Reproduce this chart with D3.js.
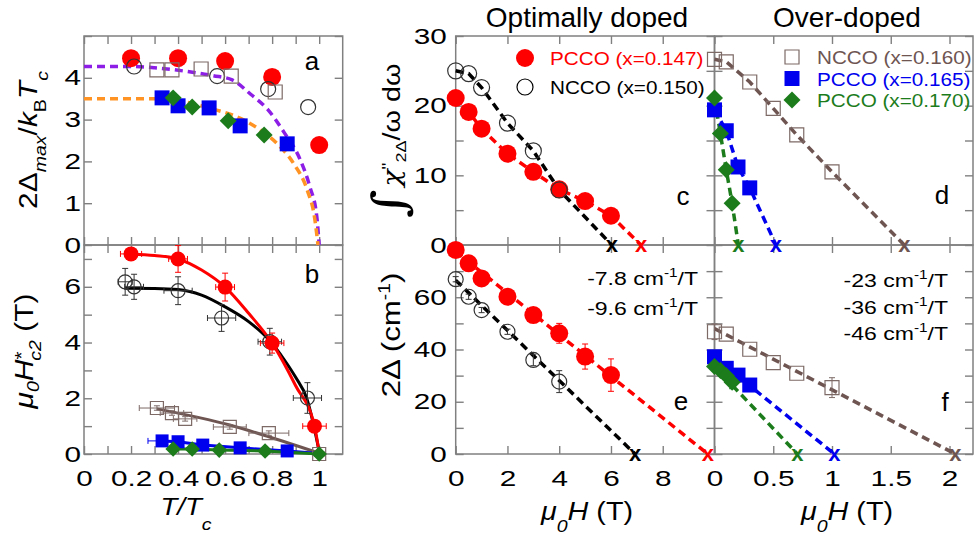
<!DOCTYPE html>
<html>
<head>
<meta charset="utf-8">
<script src="https://cdn.jsdelivr.net/npm/d3@7"></script>
<style>
  body { margin: 0; background: #fff; }
  svg { font-family: "Liberation Sans", Arial, sans-serif; }
</style>
</head>
<body>
<div id="main-container"></div>
<script>
// ---------- data ----------

// a: 2Δmax/kBTc vs T/Tc  -> [T/Tc, value]
const A_PCCO147 = [[0.2, 4.47], [0.4, 4.47], [0.6, 4.40], [0.8, 4.02], [1.0, 2.39]];
const A_NCCO150 = [[0.213, 4.27], [0.566, 4.04], [0.783, 3.73], [0.953, 3.30]];
const A_NCCO160 = [[0.31, 4.19], [0.374, 4.19], [0.498, 4.21], [0.626, 4.04], [0.813, 3.66]];
const A_PCCO165 = [[0.332, 3.52], [0.4, 3.33], [0.532, 3.28], [0.664, 2.85], [0.864, 2.42]];
const A_PCCO170 = [[0.379, 3.52], [0.46, 3.30], [0.613, 2.97], [0.766, 2.63]];
// dashed guide curves (points picked along them)
const A_CURVE_HI = [[0, 4.27], [0.2, 4.27], [0.3, 4.24], [0.44, 4.15], [0.55, 4.05], [0.63, 3.95], [0.71, 3.6], [0.78, 3.25], [0.85, 2.7], [0.92, 2.03], [0.96, 1.4], [0.99, 0.67], [1.0, 0]];
const A_CURVE_LO = [[0, 3.5], [0.3, 3.5], [0.4, 3.45], [0.55, 3.25], [0.66, 3.04], [0.75, 2.75], [0.82, 2.43], [0.89, 1.96], [0.95, 1.3], [0.98, 0.67], [0.995, 0]];

// b: μ0H*c2 vs T/Tc -> [T/Tc, H, ±T, ±H]
const B_PCCO147 = [[0.2, 7.18, 0.045, 0.1], [0.4, 7.0, 0.04, 0.48], [0.6, 5.99, 0.04, 0.5], [0.8, 3.98, 0.05, 0.36], [0.98, 1.0, 0.05, 0]];
const B_NCCO150 = [[0.175, 6.18, 0.03, 0.48], [0.213, 6.0, 0.04, 0.45], [0.4, 5.86, 0.06, 0.5], [0.585, 4.88, 0.06, 0.48], [0.79, 4.03, 0.05, 0.48], [0.95, 2.01, 0.06, 0.55]];
const B_NCCO160 = [[0.31, 1.65, 0.075, 0.08], [0.374, 1.47, 0.05, 0.08], [0.43, 1.26, 0.05, 0.08], [0.62, 0.97, 0.07, 0.08], [0.786, 0.75, 0.085, 0.08], [1.0, 0.0, 0.02, 0]];
const B_PCCO165 = [[0.332, 0.47, 0.06, 0], [0.4, 0.44, 0.02, 0], [0.505, 0.32, 0.02, 0], [0.664, 0.22, 0.02, 0], [0.864, 0.11, 0.02, 0]];
const B_PCCO170 = [[0.379, 0.18], [0.46, 0.18], [0.575, 0.14], [0.77, 0.11], [1.0, 0.0]];
const B_FIT_PCCO147 = [[0.2, 7.18], [0.3, 7.12], [0.4, 7.0], [0.5, 6.6], [0.6, 5.99], [0.7, 5.05], [0.8, 3.98], [0.9, 2.45], [0.98, 1.0], [1.0, 0.05]];
const B_FIT_NCCO150 = [[0.175, 5.95], [0.3, 5.94], [0.4, 5.9], [0.5, 5.7], [0.6, 5.28], [0.7, 4.75], [0.787, 4.09], [0.85, 3.4], [0.9, 2.75], [0.947, 2.0], [1.0, 0.1]];
const B_FIT_NCCO160 = [[0.31, 1.62], [0.62, 1.04], [0.786, 0.62], [1.0, 0.03]];
const B_FIT_PCCO165 = [[0.332, 0.47], [0.4, 0.44], [0.505, 0.32], [0.664, 0.22], [0.864, 0.11], [1.0, 0.02]];

// c/e: optimally doped, vs field (T)
const H_PCCO147 = [0, 0.5, 1, 2, 3, 4, 5, 6];
const H_NCCO150 = [0, 0.5, 1, 2, 3, 4];
const C_PCCO147 = [21.1, 19.1, 16.7, 13.1, 10.5, 8.0, 6.3, 4.2];
const C_NCCO150 = [25.0, 24.6, 22.6, 17.5, 13.5, 7.9];
const E_PCCO147 = [78.1, 73.0, 67.2, 60.2, 53.2, 46.2, 37.3, 30.2];
const E_PCCO147_ERR = [0.8, 0.8, 1, 1, 1.2, 3.8, 4.8, 6.2];
const E_NCCO150 = [66.9, 60.2, 55.1, 46.8, 36.0, 27.7];
const E_NCCO150_ERR = [1, 1, 1, 1, 2.2, 4.2];

// d/f: over-doped, vs field (T)
const H_NCCO160 = [0, 0.1, 0.3, 0.5, 0.7, 1.0];
const H_PCCO165 = [0, 0.1, 0.2, 0.3];
const H_PCCO170 = [0, 0.05, 0.1, 0.15];
const D_NCCO160 = [26.65, 26.3, 23.4, 19.6, 15.8, 10.5];
const D_PCCO165 = [19.4, 16.4, 11.2, 8.2];
const D_PCCO170 = [21.1, 16.0, 10.8, 6.0];
const F_NCCO160 = [46.8, 45.9, 40.1, 35.0, 30.9, 25.4];
const F_NCCO160_ERR = [3, 0, 0, 0, 0, 3.8];
const F_PCCO165 = [37.2, 32.8, 30.2, 26.4];
const F_PCCO170 = [33.5, 32.0, 30.0, 27.5];
const F_PCCO170_ERR = [0, 0, 0, 2.5];

// field where each curve reaches zero (the x marks): [PCCO147, NCCO150] and [NCCO160, PCCO165, PCCO170]
const C_ZERO = [7.16, 6.03];
const E_ZERO = [9.74, 6.93];
const D_ZERO = [1.615, 0.523, 0.203];
const F_ZERO = [2.05, 1.02, 0.705];
// linear fits in e and f: intercepts at H = 0
const E_INTERCEPT = [77.5, 66.5];
const F_INTERCEPT = [48, 37, 33.5];

const E_SLOPES = ['-7.8', '-9.6'];
const F_SLOPES = ['-23', '-36', '-46'];

// ---------- setup ----------
const W = 974, H = 541;
const FRAME = '#808080';
const RED = '#ff0000', BLUE = '#0000ee', GREEN = '#1c7c1c', BROWN = '#6e5552', OSQ = '#7d6a67';
const PURPLE = '#8c1ee6', ORANGE = '#ff9424';
const SX = 1.35; // the figure's digits are drawn wide

const svg = d3.select('#main-container').append('svg')
    .attr('width', W)
    .attr('height', H);

const zip = (xs, ys) => xs.map((v, i) => [v, ys[i]]);

// Scales
const xT = d3.scaleLinear([0, 1.1], [84, 342.7]);
const yA = d3.scaleLinear([0, 5], [245, 36]);
const yB = d3.scaleLinear([0, 7.5], [454, 245]);
const xM = d3.scaleLinear([0, 10], [455.7, 714.5]);
const yC = d3.scaleLinear([0, 30], [245, 36]);
const yE = d3.scaleLinear([0, 80], [454, 245]);
const xR = d3.scaleLinear([0, 2.2], [714.5, 973]);

// Frame with inward ticks on all four sides
function axes(x, y, o) {
    const [xa, xb] = x.range(), [ya, yb] = y.range();
    const g = svg.append('g');
    const fmt = keep => v => keep && keep(v) ? d3.format('~g')(+v.toFixed(2)) : '';
    const put = (axis, tr) => {
        const a = g.append('g').attr('transform', tr).call(axis)
            .attr('font-size', null).attr('font-family', null);
        a.select('.domain').remove();
        a.selectAll('line').attr('stroke', FRAME).attr('stroke-width', 1.4);
        a.selectAll('text').attr('fill', '#000').style('font-size', '22px');
        return a;
    };
    put(d3.axisBottom(x).tickValues(o.xt).tickSize(-8).tickFormat(fmt(o.xKeep)), `translate(0,${ya})`)
        .selectAll('text').attr('y', 32).attr('dy', null).attr('transform', `scale(${SX},1)`);
    put(d3.axisTop(x).tickValues(o.xt).tickSize(-8).tickFormat(''), `translate(0,${yb})`);
    put(d3.axisLeft(y).tickValues(o.yt).tickSize(-8).tickFormat(fmt(o.yKeep)), `translate(${xa},0)`)
        .selectAll('text').attr('x', -o.gap / SX).attr('transform', `scale(${SX},1)`);
    put(d3.axisRight(y).tickValues(o.yt).tickSize(-8).tickFormat(''), `translate(${xb},0)`);
    g.append('rect')
        .attr('x', xa).attr('y', yb)
        .attr('width', xb - xa).attr('height', ya - yb)
        .attr('fill', 'none').attr('stroke', FRAME).attr('stroke-width', 1.5);
}

const tenths = d3.range(0, 11).map(i => i / 10);
axes(xT, yA, { xt: tenths, yt: d3.range(0, 6), yKeep: v => v <= 4, gap: 3 });
axes(xT, yB, { xt: tenths, yt: d3.range(0, 8), xKeep: v => Math.round(v * 10) % 2 === 0, yKeep: v => v % 2 === 0, gap: 3 });
axes(xM, yC, { xt: [0, 2, 4, 6, 8], yt: d3.range(0, 31, 5), yKeep: v => v % 10 === 0, gap: 9 });
axes(xM, yE, { xt: [0, 2, 4, 6, 8], yt: d3.range(0, 80, 10), xKeep: () => true, yKeep: v => v % 20 === 0, gap: 9 });
axes(xR, yC, { xt: [0, 0.5, 1, 1.5, 2], yt: d3.range(0, 31, 5), gap: 9 });
axes(xR, yE, { xt: [0, 0.5, 1, 1.5, 2], yt: d3.range(0, 80, 10), xKeep: () => true, gap: 9 });

// ---------- mark helpers ----------
function curve(x, y, pts, color, o = {}) {
    svg.append('path')
        .attr('d', d3.line().x(d => x(d[0])).y(d => y(d[1])).curve(o.smooth ? d3.curveMonotoneX : d3.curveLinear)(pts))
        .attr('fill', 'none')
        .attr('stroke', color)
        .attr('stroke-width', o.width || 3.5)
        .attr('stroke-dasharray', o.solid ? null : '8,5');
}

function marks(x, y, pts, kind, color, size, open) {
    const sym = kind === 'circle' ? d3.symbolCircle : d3.symbolSquare;
    const area = kind === 'circle' ? Math.PI * size * size / 4 : size * size;
    svg.append('g').selectAll('path')
        .data(pts)
        .join('path')
        .attr('transform', d => `translate(${x(d[0])},${y(d[1])})` + (kind === 'diamond' ? ' rotate(45)' : ''))
        .attr('d', d3.symbol(sym, area))
        .attr('fill', open ? 'none' : color)
        .attr('stroke', open ? color : 'none')
        .attr('stroke-width', 1.2);
}

// error bars, pts = [x, y, ±x, ±y]
function errs(x, y, pts, color) {
    const c = 3;
    svg.append('g').selectAll('path')
        .data(pts)
        .join('path')
        .attr('d', d => {
            const px = x(d[0]), py = y(d[1]);
            let s = '';
            if (d[2]) {
                const a = x(d[0] - d[2]), b = x(d[0] + d[2]);
                s += `M${a},${py}H${b}M${a},${py - c}V${py + c}M${b},${py - c}V${py + c}`;
            }
            if (d[3]) {
                const a = y(d[1] - d[3]), b = y(d[1] + d[3]);
                s += `M${px},${a}V${b}M${px - c},${a}H${px + c}M${px - c},${b}H${px + c}`;
            }
            return s || null;
        })
        .attr('fill', 'none')
        .attr('stroke', color)
        .attr('stroke-width', 1);
}

function crosses(x, y, vals, colors) {
    svg.append('g').selectAll('text')
        .data(vals)
        .join('text')
        .attr('x', d => x(d))
        .attr('y', y(0) + 7)
        .attr('text-anchor', 'middle')
        .style('font-size', '22px')
        .style('font-weight', 'bold')
        .attr('fill', (d, i) => colors[i])
        .text('x');
}

function rich(tr, parts, o = {}) {
    const t = svg.append('text')
        .attr('transform', tr)
        .attr('text-anchor', o.anchor || 'middle')
        .attr('fill', o.fill || '#000')
        .style('font-size', (o.size || 24) + 'px');
    parts.forEach(p => {
        const s = t.append('tspan').text(p.t);
        if (p.dy) s.attr('dy', p.dy);
        if (p.dx) s.attr('dx', p.dx);
        if (p.s) s.style('font-size', p.s + 'px');
        if (p.i) s.style('font-style', 'italic');
        if (p.f) s.style('font-family', p.f);
    });
    return t;
}

// ---------- panel a ----------
curve(xT, yA, A_CURVE_HI, PURPLE, { smooth: true });
curve(xT, yA, A_CURVE_LO, ORANGE, { smooth: true });
marks(xT, yA, A_PCCO147, 'circle', RED, 18);
marks(xT, yA, A_NCCO150, 'circle', '#333', 15, true);
marks(xT, yA, A_NCCO160, 'square', OSQ, 14, true);
marks(xT, yA, A_PCCO165, 'square', BLUE, 15);
marks(xT, yA, A_PCCO170, 'diamond', GREEN, 12);

// ---------- panel b ----------
curve(xT, yB, B_FIT_NCCO160, BROWN, { smooth: true, solid: true, width: 3 });
curve(xT, yB, B_FIT_PCCO165, BLUE, { solid: true, width: 3 });
curve(xT, yB, B_PCCO170, GREEN, { solid: true, width: 3 });
curve(xT, yB, B_FIT_NCCO150, '#000', { smooth: true, solid: true, width: 3 });
curve(xT, yB, B_FIT_PCCO147, RED, { smooth: true, solid: true, width: 3 });
errs(xT, yB, B_NCCO160, OSQ);
errs(xT, yB, B_PCCO165, BLUE);
errs(xT, yB, B_NCCO150, '#333');
errs(xT, yB, B_PCCO147, RED);
marks(xT, yB, B_NCCO160, 'square', OSQ, 13, true);
marks(xT, yB, B_PCCO165, 'square', BLUE, 13);
marks(xT, yB, B_PCCO170, 'diamond', GREEN, 11);
marks(xT, yB, B_NCCO150, 'circle', '#333', 14, true);
marks(xT, yB, B_PCCO147, 'circle', RED, 15);

// ---------- panel c ----------
const cRed = zip(H_PCCO147, C_PCCO147), cBlack = zip(H_NCCO150, C_NCCO150);
curve(xM, yC, [...cBlack, [C_ZERO[1], 0]], '#000');
curve(xM, yC, [...cRed, [C_ZERO[0], 0]], RED);
marks(xM, yC, cRed, 'circle', RED, 18);
marks(xM, yC, cBlack, 'circle', '#333', 16, true);
crosses(xM, yC, C_ZERO, [RED, '#000']);

// ---------- panel d ----------
const dBr = zip(H_NCCO160, D_NCCO160), dBl = zip(H_PCCO165, D_PCCO165), dGr = zip(H_PCCO170, D_PCCO170);
curve(xR, yC, [...dBr, [D_ZERO[0], 0]], BROWN);
curve(xR, yC, [...dBl, [D_ZERO[1], 0]], BLUE);
curve(xR, yC, [...dGr, [D_ZERO[2], 0]], GREEN);
marks(xR, yC, dBr, 'square', OSQ, 14, true);
marks(xR, yC, dBl, 'square', BLUE, 15);
marks(xR, yC, dGr, 'diamond', GREEN, 12);
crosses(xR, yC, D_ZERO, [BROWN, BLUE, GREEN]);

// ---------- panel e ----------
curve(xM, yE, [[0, E_INTERCEPT[0]], [E_ZERO[0], 0]], RED);
curve(xM, yE, [[0, E_INTERCEPT[1]], [E_ZERO[1], 0]], '#000');
errs(xM, yE, H_PCCO147.map((h, i) => [h, E_PCCO147[i], 0, E_PCCO147_ERR[i]]), RED);
errs(xM, yE, H_NCCO150.map((h, i) => [h, E_NCCO150[i], 0, E_NCCO150_ERR[i]]), '#333');
marks(xM, yE, zip(H_PCCO147, E_PCCO147), 'circle', RED, 18);
marks(xM, yE, zip(H_NCCO150, E_NCCO150), 'circle', '#333', 15, true);
crosses(xM, yE, E_ZERO, [RED, '#000']);

// ---------- panel f ----------
curve(xR, yE, [[0, F_INTERCEPT[0]], [F_ZERO[0], 0]], BROWN);
curve(xR, yE, [[0, F_INTERCEPT[1]], [F_ZERO[1], 0]], BLUE);
curve(xR, yE, [[0, F_INTERCEPT[2]], [F_ZERO[2], 0]], GREEN);
errs(xR, yE, H_NCCO160.map((h, i) => [h, F_NCCO160[i], 0, F_NCCO160_ERR[i]]), OSQ);
errs(xR, yE, H_PCCO170.map((h, i) => [h, F_PCCO170[i], 0, F_PCCO170_ERR[i]]), GREEN);
marks(xR, yE, zip(H_NCCO160, F_NCCO160), 'square', OSQ, 14, true);
marks(xR, yE, zip(H_PCCO165, F_PCCO165), 'square', BLUE, 15);
marks(xR, yE, zip(H_PCCO170, F_PCCO170), 'diamond', GREEN, 12);
crosses(xR, yE, F_ZERO, [BROWN, BLUE, GREEN]);

// ---------- legends ----------
const legC = [
    { label: 'PCCO (x=0.147)', color: RED, kind: 'circle', open: false, size: 18 },
    { label: 'NCCO (x=0.150)', color: '#000', kind: 'circle', open: true, size: 16 }
];
const legD = [
    { label: 'NCCO (x=0.160)', color: BROWN, kind: 'square', open: true, size: 14 },
    { label: 'PCCO (x=0.165)', color: BLUE, kind: 'square', open: false, size: 15 },
    { label: 'PCCO (x=0.170)', color: GREEN, kind: 'diamond', open: false, size: 12 }
];
function legend(items, x0, y0, step) {
    items.forEach((it, i) => {
        const id = d3.scaleIdentity();
        marks(id, id, [[x0, y0 + i * step]], it.kind, it.kind === 'square' && it.open ? OSQ : it.color, it.size, it.open);
        svg.append('text')
            .attr('transform', `translate(${x0 + 25},${y0 + i * step + 7}) scale(1.15,1)`)
            .attr('fill', it.color)
            .style('font-size', '18px')
            .text(it.label);
    });
}
legend(legC, 525, 58, 29);
legend(legD, 792, 57, 21.5);

// ---------- slopes ----------
E_SLOPES.forEach((s, i) => rich(`translate(698,${285 + i * 30}) scale(1.28,1)`,
    [{ t: s + ' cm' }, { t: '-1', s: 12, dy: -8 }, { t: '/T', dy: 8 }], { anchor: 'end', size: 18 }));
F_SLOPES.forEach((s, i) => rich(`translate(948,${287 + i * 26.5}) scale(1.28,1)`,
    [{ t: s + ' cm' }, { t: '-1', s: 12, dy: -8 }, { t: '/T', dy: 8 }], { anchor: 'end', size: 18 }));

// ---------- titles, panel letters ----------
svg.append('text').attr('x', 587).attr('y', 27).attr('text-anchor', 'middle').style('font-size', '28px').text('Optimally doped');
svg.append('text').attr('x', 847).attr('y', 27).attr('text-anchor', 'middle').style('font-size', '28px').text('Over-doped');

const LETTERS = [['a', 312, 70], ['b', 312, 283], ['c', 683, 205], ['d', 942, 204], ['e', 681, 410], ['f', 945, 411]];
svg.append('g').selectAll('text').data(LETTERS).join('text')
    .attr('x', d => d[1]).attr('y', d => d[2])
    .attr('text-anchor', 'middle')
    .style('font-size', '26px')
    .text(d => d[0]);

// ---------- axis titles ----------
rich('translate(37,140) rotate(-90) scale(1.15,1)', [
    { t: '2Δ' }, { t: 'max', s: 17, i: 1, dy: 9 }, { t: '/', dy: -9 }, { t: 'k', i: 1 },
    { t: 'B', s: 17, dy: 9 }, { t: 'T', i: 1, dy: -9 }, { t: 'c', s: 17, i: 1, dy: 11 }
], { size: 26 });

rich('translate(33,351) rotate(-90) scale(1.15,1)', [
    { t: 'μ', i: 1 }, { t: '0', s: 17, i: 1, dy: 6 }, { t: 'H', i: 1, dy: -6 },
    { t: '*', s: 18, dy: -5 }, { t: 'c2', s: 17, i: 1, dx: -8, dy: 13 }, { t: ' (T)', dy: -8 }
], { size: 26 });

rich('translate(400,218) rotate(-90) scale(1.2,1)', [
    { t: '∫', s: 46, f: '"DejaVu Serif", serif', dy: 5 },
    { t: 'χ', f: '"DejaVu Serif", serif', i: 1, dx: 2, dy: -5 },
    { t: '"', s: 16, dy: -6 }, { t: '2Δ', s: 15, dy: 12 }, { t: '/ω dω', dy: -6 }
], { size: 24, anchor: 'start' });

rich('translate(400,335) rotate(-90) scale(1.2,1)', [
    { t: '2Δ (cm' }, { t: '-1', s: 16, dy: -10 }, { t: ')', dy: 10 }
], { size: 26 });

rich('translate(186,515) scale(1.15,1)', [{ t: 'T/T', i: 1 }, { t: 'c', s: 17, i: 1, dy: 15 }], { size: 24 });
[587, 847].forEach(cx => rich(`translate(${cx},520) scale(1.15,1)`, [
    { t: 'μ', i: 1 }, { t: '0', s: 17, i: 1, dy: 12 }, { t: 'H', i: 1, dy: -12 }, { t: ' (T)' }
], { size: 25 }));
</script>
</body>
</html>
